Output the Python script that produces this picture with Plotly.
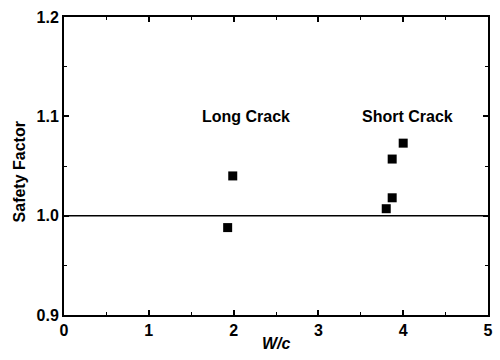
import plotly.graph_objects as go

long_x = [1.93, 1.99]
long_y = [0.988, 1.040]
short_x = [3.80, 3.87, 3.87, 4.00]
short_y = [1.007, 1.018, 1.057, 1.073]
labels = ["Long Crack", "Short Crack"]
label_x = [2.15, 4.05]
label_y = [1.10, 1.10]
ref_y = 1.0
xticks = [0, 1, 2, 3, 4, 5]
yticks = [0.9, 1.0, 1.1, 1.2]

FONT = "Liberation Sans, Arial"

fig = go.Figure()
fig.add_trace(go.Scatter(x=long_x + short_x, y=long_y + short_y, mode="markers",
                         marker=dict(symbol="square", size=9, color="black"),
                         showlegend=False))
fig.add_trace(go.Scatter(x=[0, 5], y=[ref_y, ref_y], mode="lines",
                         line=dict(color="black", width=1.5), showlegend=False))
for t, x, y in zip(labels, label_x, label_y):
    fig.add_annotation(x=x, y=y, text="<b>%s</b>" % t, showarrow=False,
                       font=dict(family=FONT, size=16, color="black"))

fig.add_annotation(xref="paper", yref="paper", x=0.5, y=-0.095, yanchor="middle",
                   text="<b><i>W/c</i></b>", showarrow=False,
                   font=dict(family=FONT, size=16, color="black"))
fig.add_annotation(xref="paper", yref="paper", x=-0.105, y=0.48, xanchor="center",
                   yanchor="middle", textangle=-90,
                   text="<b>Safety Factor</b>", showarrow=False,
                   font=dict(family=FONT, size=16, color="black"))

axis_common = dict(showgrid=False, zeroline=False, showline=True, linecolor="black",
                   linewidth=2, mirror="ticks", ticks="inside", ticklen=5, tickwidth=1.5,
                   tickcolor="black", automargin=False,
                   tickfont=dict(family=FONT, size=16, color="black"))
fig.update_xaxes(range=[0, 5], tickvals=xticks, ticktext=["<b>%d</b>" % v for v in xticks],
                 minor=dict(ticks="inside", ticklen=3, tickwidth=1, tickcolor="black", dtick=0.5),
                 **axis_common)
fig.update_yaxes(range=[0.9, 1.2], tickvals=yticks, ticktext=["<b>%.1f</b>" % v for v in yticks],
                 minor=dict(ticks="inside", ticklen=3, tickwidth=1, tickcolor="black", dtick=0.05),
                 **axis_common)
fig.update_layout(width=500, height=360, margin=dict(l=64, r=12, t=17, b=45),
                  plot_bgcolor="white", paper_bgcolor="white")
fig.write_html("out.html")
